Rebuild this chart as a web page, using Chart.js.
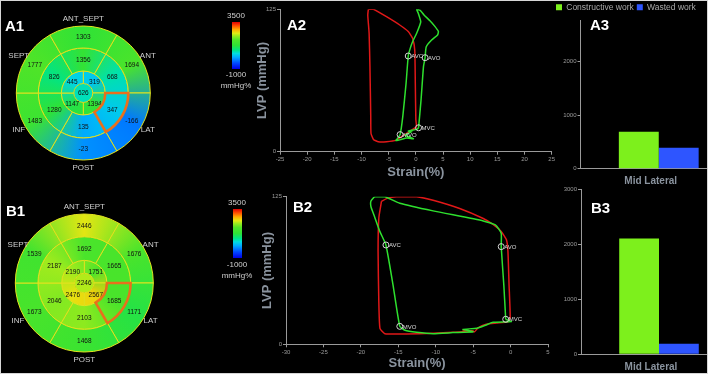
<!DOCTYPE html>
<html>
<head>
<meta charset="utf-8">
<script src="https://cdn.jsdelivr.net/npm/chart.js@4.4.1/dist/chart.umd.min.js"></script>
<style>
html, body { margin: 0; padding: 0; overflow: hidden; background: #000; }
#wrap { position: relative; width: 708px; height: 374px; background: #000; overflow: hidden; }
#wrap canvas { position: absolute; }
.tag { position: absolute; color: #fff; font: bold 15px "Liberation Sans", Arial, sans-serif; line-height: 15px; }
.cbar { position: absolute; }
.cbtxt { position: absolute; width: 40px; margin-left: -20px; text-align: center; color: #cfcfcf;
         font: 8px "Liberation Sans", Arial, sans-serif; line-height: 8px; }
.frame { position: absolute; left: 0; top: 0; width: 708px; height: 374px; box-sizing: border-box;
         border: 1px solid #d6d6d6; pointer-events: none; }
</style>
</head>
<body>
<div id="wrap">
  <canvas id="a1" width="200" height="185" style="left:0;top:0"></canvas>
  <canvas id="b1" width="200" height="189" style="left:0;top:185px"></canvas>
  <canvas id="a2" width="360" height="185" style="left:200px;top:0"></canvas>
  <canvas id="b2" width="360" height="189" style="left:200px;top:185px"></canvas>
  <canvas id="a3" width="224" height="185" style="left:516px;top:0"></canvas>
  <canvas id="b3" width="224" height="189" style="left:516px;top:185px"></canvas>

  <div class="cbar" id="cbA" style="left:232px;top:22px;width:8px;height:47px"></div>
  <div class="cbtxt cbMax" style="left:236px;top:12px"></div>
  <div class="cbtxt cbMin" style="left:236px;top:71px"></div>
  <div class="cbtxt cbUnit" style="left:236px;top:82px"></div>
  <div class="cbar" id="cbB" style="left:233px;top:209px;width:9px;height:49px"></div>
  <div class="cbtxt cbMax" style="left:237px;top:199px"></div>
  <div class="cbtxt cbMin" style="left:237px;top:261px"></div>
  <div class="cbtxt cbUnit" style="left:237px;top:272px"></div>

  <div class="tag" style="left:5px;top:18px">A1</div>
  <div class="tag" style="left:6px;top:203px">B1</div>
  <div class="tag" style="left:287px;top:17px">A2</div>
  <div class="tag" style="left:293px;top:199px">B2</div>
  <div class="tag" style="left:590px;top:17px">A3</div>
  <div class="tag" style="left:591px;top:200px">B3</div>
  <div class="frame"></div>
</div>
<script>
// ---- myocardial work bull's-eyes (mmHg%) ----
// basal / mid rings clockwise from ANT, apical ring clockwise from upper-right
const wallNames = ['ANT', 'LAT', 'POST', 'INF', 'SEPT', 'ANT_SEPT'];
const a1Basal = [1694, -166, -23, 1483, 1777, 1303];
const a1Mid = [668, 347, 135, 1280, 826, 1356];
const a1Apical = [319, 1394, 1147, 445];
const a1Apex = [626];
const b1Basal = [1676, 1171, 1468, 1673, 1539, 2446];
const b1Mid = [1665, 1685, 2103, 2046, 2187, 1692];
const b1Apical = [1751, 2567, 2476, 2190];
const b1Apex = [2246];
const workMin = -1000;
const workMax = 3500;
const workUnit = 'mmHg%';

// ---- pressure-strain loops ----
const a2RedStrain = [-8.74, -7.8, -5.4, -2.9, -1.4, -0.6, -0.2, -0.1, 0.0, 0.1, -0.9, -2.4, -3.6, -5.4, -6.9, -7.8, -8.25, -8.3, -8.45, -8.6, -8.85, -8.74];
const a2RedLvp = [125, 125, 118.5, 111, 105.5, 99.5, 89, 60, 28, 22, 18.5, 14, 10.2, 8.8, 8.8, 10.8, 16, 31, 75, 104, 120, 125];
const a2GreenStrain = [0.5, 0.95, 1.4, 1.7, 1.9, 2.9, 4.0, 4.15, 3.5, 2.6, 1.5, 0.8, 0.15, 0.45, 0.9, 0.15, -0.6, -1.05, -1.4, -1.8, -2.4, -2.9, -3.65, -1.7, -0.45, -2.0, -0.75, -1.4, 0.15, 0.5];
const a2GreenLvp = [21, 45, 74.5, 82.5, 92, 98, 102.5, 105.5, 110, 115, 120, 124, 125, 121.5, 114, 104, 96.5, 90.5, 84, 60, 31, 15, 9.7, 12, 11.4, 14.6, 17.6, 18.1, 19.6, 21];
const eventNames = ['AVC', 'AVO', 'MVC', 'MVO'];
const a2EventStrain = [-1.4, 1.7, 0.5, -2.9];
const a2EventLvp = [84, 82.5, 21, 15];

const b2RedStrain = [-17.25, -16.35, -15.25, -12.55, -10.35, -6.8, -3.65, -2.35, -1.25, -0.55, -0.35, -0.2, -0.05, -0.35, -1.9, -3.25, -4.35, -4.8, -6.35, -5.0, -7.7, -10.35, -13.9, -16.8, -17.45, -17.6, -17.7, -17.6, -17.25];
const b2RedLvp = [121, 124, 125, 125, 122, 115, 106.5, 101.5, 95.5, 88.5, 78.5, 50, 22.5, 19, 18, 17, 14, 10.7, 12, 11.3, 10.2, 9.3, 8.7, 9, 13.5, 36, 78.5, 107, 121];
const b2GreenStrain = [-0.65, -0.9, -1.25, -1.25, -2.0, -3.65, -10.35, -14.8, -16.8, -18.15, -18.65, -18.65, -18.25, -17.45, -16.65, -15.7, -14.8, -14.1, -12.55, -10.35, -7.7, -5.0, -6.35, -4.5, -3.25, -2.35, 0.1, -0.65];
const b2GreenLvp = [21.2, 50, 82.7, 94, 101, 104.5, 113, 119.5, 125, 125, 121.3, 116.5, 109.5, 95.4, 84.1, 50.2, 15.2, 11.9, 10.2, 9, 9.9, 10.7, 12.7, 13.5, 16.4, 18.6, 19.2, 21.2];
const b2EventStrain = [-16.65, -1.25, -0.65, -14.8];
const b2EventLvp = [84.1, 82.7, 21.2, 15.2];
const lvpTicks = [0, 125];

// ---- constructive / wasted work ----
const workCategories = ['Mid Lateral'];
const a3Constructive = [690];
const a3Wasted = [390];
const b3Constructive = [2110];
const b3Wasted = [190];
const a3Ticks = [0, 1000, 2000];
const b3Ticks = [0, 1000, 2000, 3000];

Chart.defaults.font.family = '"Liberation Sans", Arial, sans-serif';
const axisGrey = '#9a9a9a';
const titleGrey = '#8a939e';

// colour map of the bull's-eye (blue -> cyan -> green -> yellow -> red)
const cmapStops = [
  [0.00, [0, 0, 230]], [0.12, [0, 70, 255]], [0.25, [0, 170, 255]], [0.33, [0, 220, 225]],
  [0.40, [0, 228, 135]], [0.50, [45, 226, 55]], [0.62, [80, 228, 40]], [0.70, [150, 235, 30]],
  [0.76, [225, 235, 20]], [0.84, [255, 170, 0]], [0.92, [255, 80, 0]], [1.00, [225, 0, 0]]
];
function workColor(v) {
  const t = Math.min(1, Math.max(0, (v - workMin) / (workMax - workMin)));
  for (let i = 1; i < cmapStops.length; i++) {
    const [t0, c0] = cmapStops[i - 1];
    const [t1, c1] = cmapStops[i];
    if (t <= t1) {
      const f = (t - t0) / (t1 - t0);
      return 'rgb(' + c0.map((c, k) => Math.round(c + (c1[k] - c) * f)).join(',') + ')';
    }
  }
}

const cbGradient = 'linear-gradient(to top,' +
  cmapStops.map(s => 'rgb(' + s[1].join(',') + ') ' + (s[0] * 100) + '%').join(',') + ')';
document.getElementById('cbA').style.background = cbGradient;
document.getElementById('cbB').style.background = cbGradient;
document.querySelectorAll('.cbMax').forEach(el => el.textContent = workMax);
document.querySelectorAll('.cbMin').forEach(el => el.textContent = workMin);
document.querySelectorAll('.cbUnit').forEach(el => el.textContent = workUnit);

// a ring is shaded with a conic gradient running through its segment colours
function ringFill(vals, rotationDeg) {
  return function (c) {
    const ca = c.chart.chartArea;
    if (vals.length === 1 || !ca) return workColor(vals[c.dataIndex || 0]);
    const n = vals.length;
    const step = 2 * Math.PI / n;
    const start = (rotationDeg - 90) * Math.PI / 180 + step / 2;
    const g = c.chart.ctx.createConicGradient(start, (ca.left + ca.right) / 2, (ca.top + ca.bottom) / 2);
    vals.forEach((v, i) => g.addColorStop(i / n, workColor(v)));
    g.addColorStop(1, workColor(vals[0]));
    return g;
  };
}

const bullLabels = {
  id: 'bullLabels',
  afterDatasetsDraw(chart, args, opts) {
    const ctx = chart.ctx;
    ctx.save();
    ctx.textAlign = 'center';
    ctx.textBaseline = 'middle';
    ctx.font = '6.5px "Liberation Sans", Arial, sans-serif';
    ctx.fillStyle = '#111';
    chart.data.datasets.forEach((ds, di) => {
      chart.getDatasetMeta(di).data.forEach((arc, i) => {
        const p = ds.values.length === 1 ? { x: arc.x, y: arc.y } : arc.getCenterPoint();
        ctx.fillText(String(ds.values[i]), p.x, p.y + 0.5);
      });
    });
    // highlighted segment (mid lateral)
    const hl = chart.getDatasetMeta(1).data[opts.highlight];
    ctx.beginPath();
    ctx.arc(hl.x, hl.y, hl.outerRadius, hl.startAngle, hl.endAngle);
    ctx.arc(hl.x, hl.y, hl.innerRadius, hl.endAngle, hl.startAngle, true);
    ctx.closePath();
    ctx.strokeStyle = '#e8701c';
    ctx.lineWidth = 2.6;
    ctx.lineJoin = 'miter';
    ctx.stroke();
    // wall names round the outside
    ctx.font = '8px "Liberation Sans", Arial, sans-serif';
    ctx.fillStyle = '#cfcfcf';
    chart.getDatasetMeta(0).data.forEach((arc, i) => {
      const a = (arc.startAngle + arc.endAngle) / 2;
      const r = arc.outerRadius + 7.5;
      ctx.fillText(wallNames[i], arc.x + r * Math.cos(a), arc.y + r * Math.sin(a));
    });
    ctx.restore();
  }
};

function bullseye(id, basal, mid, apical, apex, pad) {
  const ring = (vals, weight, rotation, bw) => ({
    data: vals.map(() => 1),
    values: vals,
    backgroundColor: ringFill(vals, rotation),
    borderColor: '#e2e21e',
    borderWidth: bw,
    hoverBorderWidth: bw,
    weight: weight,
    rotation: rotation
  });
  new Chart(document.getElementById(id), {
    type: 'doughnut',
    data: {
      datasets: [ring(basal, 22, 30, 1), ring(mid, 23, 30, 1), ring(apical, 12.5, 0, 1), ring(apex, 9.5, 0, 0)]
    },
    options: {
      responsive: false,
      animation: false,
      events: [],
      cutout: 0,
      layout: { padding: pad },
      plugins: { legend: { display: false }, tooltip: { enabled: false }, bullLabels: { highlight: 1 } }
    },
    plugins: [bullLabels]
  });
}

bullseye('a1', a1Basal, a1Mid, a1Apical, a1Apex, { left: 15.8, right: 49.2, top: 25.5, bottom: 24.5 });
bullseye('b1', b1Basal, b1Mid, b1Apical, b1Apex, { left: 14.8, right: 46.2, top: 28.5, bottom: 21.5 });

const eventLabels = {
  id: 'eventLabels',
  afterDatasetsDraw(chart) {
    const ctx = chart.ctx;
    ctx.save();
    ctx.font = '6px "Liberation Sans", Arial, sans-serif';
    ctx.fillStyle = '#dcdcdc';
    ctx.textAlign = 'left';
    ctx.textBaseline = 'middle';
    chart.getDatasetMeta(2).data.forEach((pt, i) => ctx.fillText(eventNames[i], pt.x + 3, pt.y + 0.5));
    ctx.restore();
  }
};

const zip = (xs, ys) => xs.map((x, i) => ({ x: x, y: ys[i] }));

function loopChart(id, red, green, events, xMin, xMax, box) {
  new Chart(document.getElementById(id), {
    type: 'scatter',
    data: {
      datasets: [
        { data: red, showLine: true, borderColor: '#e01818', borderWidth: 1.5, pointRadius: 0, tension: 0.15, order: 2 },
        { data: green, showLine: true, borderColor: '#2ee02e', borderWidth: 1.5, pointRadius: 0, tension: 0.15, order: 1 },
        { data: events, showLine: false, pointRadius: 3, borderColor: '#d4d4d4', borderWidth: 1,
          backgroundColor: 'rgba(0,0,0,0)', order: 0 }
      ]
    },
    options: {
      responsive: false,
      animation: false,
      events: [],
      layout: { padding: box.pad },
      plugins: { legend: { display: false }, tooltip: { enabled: false } },
      scales: {
        x: {
          type: 'linear', min: xMin, max: xMax,
          ticks: { stepSize: 5, color: axisGrey, font: { size: 6 }, padding: 1, maxRotation: 0, autoSkip: false },
          grid: { drawOnChartArea: false, tickLength: 3, color: axisGrey },
          border: { color: axisGrey },
          title: { display: true, text: 'Strain(%)', color: titleGrey, font: { size: 13, weight: 'bold' },
                   padding: { top: 0, bottom: box.xTitlePad } },
          afterFit(s) { s.height = box.xHeight; }
        },
        y: {
          type: 'linear', min: 0, max: 125,
          afterBuildTicks(s) { s.ticks = lvpTicks.map(v => ({ value: v })); },
          ticks: { color: axisGrey, font: { size: 6 }, padding: 1 },
          grid: { drawOnChartArea: false, tickLength: 3, color: axisGrey },
          border: { color: axisGrey },
          title: { display: true, text: 'LVP (mmHg)', color: titleGrey, font: { size: 13, weight: 'bold' },
                   padding: { top: 4.6, bottom: 0 } },
          afterFit(s) { s.width = box.yWidth; }
        }
      }
    },
    plugins: [eventLabels]
  });
}

loopChart('a2', zip(a2RedStrain, a2RedLvp), zip(a2GreenStrain, a2GreenLvp), zip(a2EventStrain, a2EventLvp), -25, 25,
  { pad: { left: 50, right: 8.3, top: 9.3, bottom: 0 }, yWidth: 30, xHeight: 33.3, xTitlePad: 4.6 });
loopChart('b2', zip(b2RedStrain, b2RedLvp), zip(b2GreenStrain, b2GreenLvp), zip(b2EventStrain, b2EventLvp), -30, 5,
  { pad: { left: 55, right: 12, top: 11.7, bottom: 0 }, yWidth: 31, xHeight: 29.7, xTitlePad: 2.6 });

function workBars(id, constructive, wasted, ticks, max, showLegend, box) {
  new Chart(document.getElementById(id), {
    type: 'bar',
    data: {
      labels: workCategories,
      datasets: [
        { label: 'Constructive work', data: constructive, backgroundColor: '#7df01c', categoryPercentage: 0.51, barPercentage: 1 },
        { label: 'Wasted work', data: wasted, backgroundColor: '#2e55ff', categoryPercentage: 0.51, barPercentage: 1 }
      ]
    },
    options: {
      responsive: false,
      animation: false,
      events: [],
      layout: { padding: box.pad },
      plugins: {
        tooltip: { enabled: false },
        legend: {
          display: showLegend, align: 'start', maxHeight: 20,
          labels: { boxWidth: 6, boxHeight: 6, padding: 3, color: '#a8a8a8', font: { size: 8.5 } }
        }
      },
      scales: {
        x: {
          grid: { display: false, drawTicks: false },
          border: { color: axisGrey },
          ticks: { color: titleGrey, font: { size: 10, weight: 'bold' }, padding: 7, labelOffset: -8 },
          afterFit(s) { s.height = box.xHeight; }
        },
        y: {
          min: 0, max: max,
          afterBuildTicks(s) { s.ticks = ticks.map(v => ({ value: v })); },
          ticks: { color: axisGrey, font: { size: 6 }, padding: 1, callback: v => String(v) },
          grid: { drawOnChartArea: false, tickLength: 3, color: axisGrey },
          border: { color: axisGrey },
          afterFit(s) { s.width = 27.5; }
        }
      }
    }
  });
}

workBars('a3', a3Constructive, a3Wasted, a3Ticks, 2780, true,
  { pad: { left: 37, right: 3, top: 0, bottom: 0 }, xHeight: 16.3 });
workBars('b3', b3Constructive, b3Wasted, b3Ticks, 3000, false,
  { pad: { left: 37.5, right: 3, top: 4, bottom: 0 }, xHeight: 19.7 });
</script>
</body>
</html>
